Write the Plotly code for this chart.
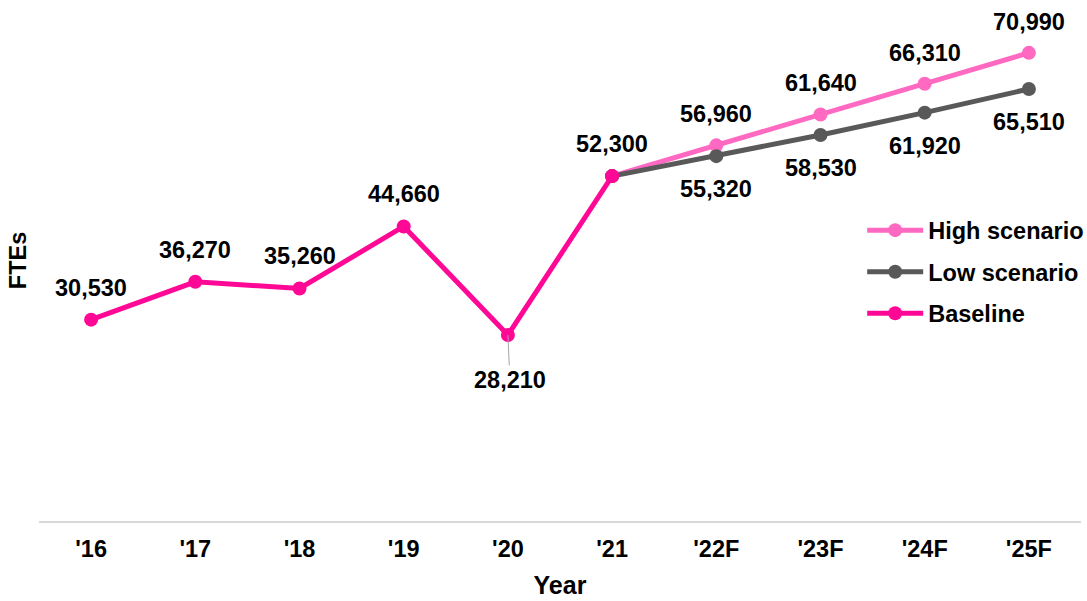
import plotly.graph_objects as go

years = ["'16", "'17", "'18", "'19", "'20", "'21", "'22F", "'23F", "'24F", "'25F"]
baseline = [30530, 36270, 35260, 44660, 28210, 52300]
high = [52300, 56960, 61640, 66310, 70990]
low = [52300, 55320, 58530, 61920, 65510]

base_x = years[:6]
fc_x = years[5:]

C_HIGH = "#FF69C1"
C_LOW = "#595959"
C_BASE = "#FF0896"
FONT = "Liberation Sans, Arial, sans-serif"
FS = 23.5

fig = go.Figure()
fig.add_trace(go.Scatter(x=fc_x, y=high, mode="lines+markers", name="High scenario",
                         line=dict(color=C_HIGH, width=5), marker=dict(size=14, color=C_HIGH),
                         legendgroup="h", cliponaxis=False))
fig.add_trace(go.Scatter(x=fc_x, y=low, mode="lines+markers", name="Low scenario",
                         line=dict(color=C_LOW, width=5), marker=dict(size=14, color=C_LOW),
                         legendgroup="l", cliponaxis=False))
fig.add_trace(go.Scatter(x=base_x, y=baseline, mode="lines+markers", name="Baseline",
                         line=dict(color=C_BASE, width=5), marker=dict(size=14, color=C_BASE),
                         legendgroup="b", cliponaxis=False))

lab_font = dict(family=FONT, size=FS, color="#000000", weight="bold")
anns = []
for xv, yv in zip(base_x, baseline):
    if xv == "'20":
        anns.append(dict(x=xv, y=yv, text=f"{yv:,}", showarrow=True, ax=2, ay=45,
                         arrowhead=0, arrowwidth=1, arrowcolor="#A6A6A6", standoff=0,
                         font=lab_font))
    else:
        anns.append(dict(x=xv, y=yv, text=f"{yv:,}", showarrow=False, yshift=32, font=lab_font))
for xv, yv in zip(fc_x[1:], high[1:]):
    anns.append(dict(x=xv, y=yv, text=f"{yv:,}", showarrow=False, yshift=31, font=lab_font))
for xv, yv in zip(fc_x[1:], low[1:]):
    anns.append(dict(x=xv, y=yv, text=f"{yv:,}", showarrow=False, yshift=-33, font=lab_font))

fig.update_layout(
    width=1087, height=601,
    margin=dict(l=39, r=6, t=0, b=80, autoexpand=False),
    paper_bgcolor="white", plot_bgcolor="white",
    font=dict(family=FONT, size=FS, color="#000000"),
    annotations=anns,
    showlegend=True,
    legend=dict(x=0.79, y=0.60, xanchor="left", yanchor="top",
                font=dict(family=FONT, size=FS, color="#000000", weight="bold"),
                bgcolor="rgba(0,0,0,0)", traceorder="grouped", tracegroupgap=8,
                itemwidth=56),
    xaxis=dict(type="category", categoryorder="array", categoryarray=years,
               range=[-0.5, 9.5], showline=True, linecolor="#D9D9D9", linewidth=2,
               showgrid=False, zeroline=False, ticks="", ticklabelstandoff=6,
               tickfont=dict(family=FONT, size=FS, color="#000000", weight="bold"),
               title=dict(text="Year", standoff=15,
                          font=dict(family=FONT, size=25, color="#000000", weight="bold")),
               automargin=False),
    yaxis=dict(range=[0, 79000], showticklabels=False, showgrid=False, zeroline=False,
               showline=False, ticks="",
               title=dict(text="FTEs", standoff=4,
                          font=dict(family=FONT, size=FS, color="#000000", weight="bold")),
               automargin=False),
)

fig.write_html("out.html", config={"displayModeBar": False},
               post_script="document.body.style.margin='0';document.body.style.padding='0';")
